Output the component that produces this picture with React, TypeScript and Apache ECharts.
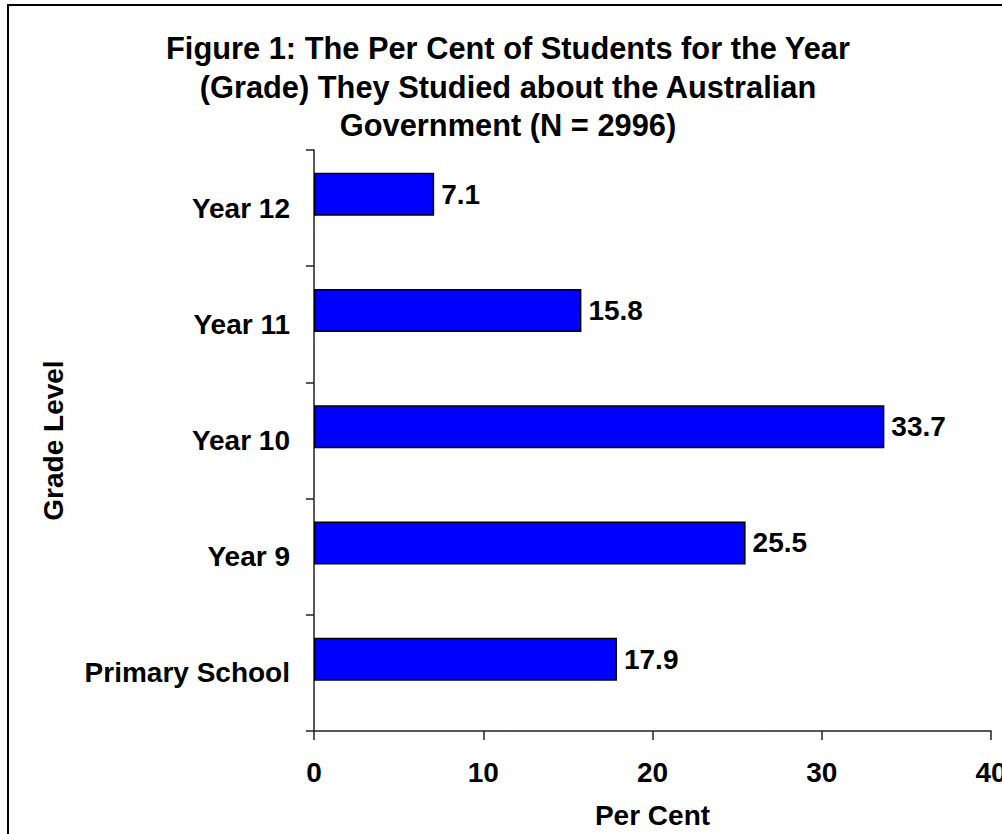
import React, { useEffect, useRef } from "react";
import * as echarts from "echarts";

const categories = ["Primary School", "Year 9", "Year 10", "Year 11", "Year 12"];
const percentValues = [17.9, 25.5, 33.7, 15.8, 7.1];
const xTicks = [0, 10, 20, 30, 40];
const titleLines = [
  "Figure 1: The Per Cent of Students for the Year",
  "(Grade) They Studied about the Australian",
  "Government (N = 2996)",
];

const FONT = "'Liberation Sans', Arial, sans-serif";
const FS = 28;

export default function App() {
  const ref = useRef<HTMLDivElement>(null);
  useEffect(() => {
    if (!ref.current) return;
    const chart = echarts.init(ref.current, null, { renderer: "svg" });
    chart.setOption({
      animation: false,
      backgroundColor: "#ffffff",
      textStyle: { fontFamily: FONT },
      title: {
        text: titleLines.join("\n"),
        left: 508,
        top: 29,
        padding: 0,
        textAlign: "center",
        textStyle: {
          fontFamily: FONT,
          fontSize: 30.8,
          fontWeight: "bold",
          color: "#000",
          lineHeight: 38.7,
        },
      },
      graphic: [
        {
          type: "line",
          shape: { x1: 7, y1: 5, x2: 1002, y2: 5 },
          style: { stroke: "#000", lineWidth: 2 },
          silent: true,
        },
        {
          type: "line",
          shape: { x1: 8, y1: 4, x2: 8, y2: 834 },
          style: { stroke: "#000", lineWidth: 2 },
          silent: true,
        },
      ],
      grid: {
        left: 314,
        top: 150,
        width: 677,
        height: 581,
        containLabel: false,
        outerBoundsMode: "none",
      },
      xAxis: {
        type: "value",
        min: xTicks[0],
        max: xTicks[xTicks.length - 1],
        interval: 10,
        name: "Per Cent",
        nameLocation: "middle",
        nameGap: 70,
        nameTextStyle: { fontFamily: FONT, fontSize: FS, fontWeight: "bold", color: "#000", verticalAlign: "top" },
        axisLine: { show: true, lineStyle: { color: "#222", width: 1.5 } },
        axisTick: { show: true, inside: false, length: 9, lineStyle: { color: "#222", width: 1.5 } },
        axisLabel: { margin: 27, fontFamily: FONT, fontSize: FS, fontWeight: "bold", color: "#000", showMaxLabel: true },
        splitLine: { show: false },
      },
      yAxis: {
        type: "category",
        data: categories,
        name: "Grade Level",
        nameLocation: "middle",
        nameGap: 247,
        nameTextStyle: { fontFamily: FONT, fontSize: FS, fontWeight: "bold", color: "#000" },
        axisLine: { show: true, lineStyle: { color: "#222", width: 1.5 } },
        axisTick: { show: true, inside: false, length: 8, lineStyle: { color: "#222", width: 1.5 } },
        axisLabel: { margin: 24, fontFamily: FONT, fontSize: FS, fontWeight: "bold", color: "#000" },
        splitLine: { show: false },
      },
      series: [
        {
          type: "bar",
          name: "Per Cent",
          data: percentValues,
          barWidth: 43,
          barGap: "-36%",
          itemStyle: { color: "#0000FF", borderColor: "#000", borderWidth: 1.5 },
          label: {
            show: true,
            position: "right",
            distance: 7,
            fontFamily: FONT,
            fontSize: FS,
            fontWeight: "bold",
            color: "#000",
            formatter: (p: any) => Number(p.value).toFixed(1),
          },
        },
        {
          type: "bar",
          name: "spacer",
          data: categories.map(() => null),
          barWidth: 43,
          barGap: "-36%",
          silent: true,
        },
      ],
    });
    return () => chart.dispose();
  }, []);
  return (
    <div
      ref={ref}
      style={{ position: "fixed", left: 0, top: 0, width: 1002, height: 834, background: "#fff" }}
    />
  );
}
